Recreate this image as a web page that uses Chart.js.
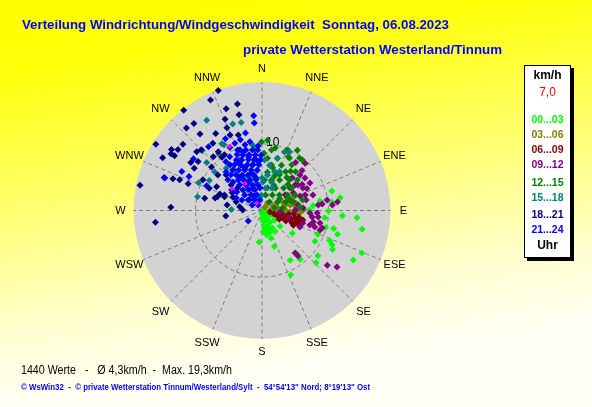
<!DOCTYPE html>
<html><head><meta charset="utf-8">
<script src="https://cdn.jsdelivr.net/npm/chart.js@4.4.0/dist/chart.umd.min.js"></script>
<style>
html,body{margin:0;padding:0;}
body{width:592px;height:407px;overflow:hidden;position:relative;
 background:linear-gradient(172deg,#ffff00 0px,#ffff08 70px,#ffff80 230px,#ffffd0 330px,#fffff6 407px);
 font-family:"Liberation Sans",Arial,sans-serif;}
#c{position:absolute;left:0;top:0;}
.t{position:absolute;white-space:pre;transform-origin:0 50%;z-index:2;}
#title{left:22px;top:17px;line-height:16px;color:#0000ff;font-weight:bold;font-size:13px;}
#sub{left:243px;top:42px;line-height:16px;color:#0000ff;font-weight:bold;font-size:13px;}
#f1{left:21px;top:363px;line-height:14px;color:#000;font-size:12px;}
#f2{left:21px;top:381px;line-height:12px;color:#0000ff;font-weight:bold;font-size:9px;}
#leg{position:absolute;left:524px;top:65px;width:45px;height:191px;border:1px solid #000;background:#fff;box-shadow:3px 3px 0 #000;z-index:2;}
#leg div{position:absolute;left:0;right:0;text-align:center;white-space:pre;line-height:14px;}
</style></head>
<body>
<canvas id="c" width="592" height="407"></canvas>
<div class="t" id="title" data-w="427">Verteilung Windrichtung/Windgeschwindigkeit  Sonntag, 06.08.2023</div>
<div class="t" id="sub" data-w="259">private Wetterstation Westerland/Tinnum</div>
<div class="t" id="f1" data-w="211">1440 Werte   -   Ø 4,3km/h  -  Max. 19,3km/h</div>
<div class="t" id="f2" data-w="349">© WsWin32  -  © private Wetterstation Tinnum/Westerland/Sylt  -  54°54'13" Nord; 8°19'13" Ost</div>
<div id="leg"></div>
<script>
// ---- data (direction in degrees, speed in km/h) ----
const R_MAX = 19.3;
const directions = ['N','NNE','NE','ENE','E','ESE','SE','SSE','S','SSW','SW','WSW','W','WNW','NW','NNW'];
const ringTicks = [10];
const unitLabel = 'km/h';
const meanLabel = '7,0';
const timeLabel = 'Uhr';
const groupLabels = ['00...03','03...06','06...09','09...12','12...15','15...18','18...21','21...24'];
const groupColors = ['#00ff00','#808000','#800000','#800080','#008000','#008080','#000080','#0000ff'];

const g00_03 = [[38.7,0.5],[104,0.9],[180,0.5],[144,1.0],[182,1.2],[173,1.7],[154,1.6],[145,2.1],[159,2.6],[170,2.7],[159,3.4],[148,3.7],[169,3.7],[185,4.8],[162,4.4],[161,5.7],[127,5.7],[120,9.2],[113,9.1],[105,9.9],[104,11.1],[107.5,11.9],[114,11.1],[116,11.7],[119,12.1],[129,10.8],[134,11.3],[142,9.3],[156,10.6],[118.5,15.6],[113,16.3],[100.6,15.3],[94.3,14.3],[93.7,12.1],[96.5,9.5],[90.4,10.0],[89.4,7.1],[97,7.6],[80.7,8.8],[83.3,10.6],[80.7,11.9],[74.4,10.9],[84.6,7.7],[126,2.4],[131,3.6],[128,1.3],[172,2.2],[163,3.1],[177,3.2],[150,3.0],[97,0.6],[114,1.7],[150.5,8.6],[141,8.3]];
const g03_06 = [[40.6,0.7],[38.7,1.4],[67.8,1.8],[81.1,2.4],[70.3,3.4],[88.8,3.5],[78.9,4.3],[66.5,5.1],[92.8,4.7],[85.9,5.3],[94,5.4],[89.3,6.2],[102.7,3.1],[100.9,2.0],[104,4.0],[93.6,1.2],[59.7,3.1],[63.4,4.2],[77.6,5.2],[93.8,5.7],[65,2.3],[76.5,3.6],[93,4.2],[88.4,2.7],[82.2,5.0]];
const g06_09 = [[100.6,1.2],[106.3,1.9],[109,2.5],[99.9,3.1],[109.7,3.4],[104.6,3.9],[108.7,4.4],[112.6,4.9],[102.8,5.1],[108.2,5.5],[109.6,6.1],[103,6.3],[113.6,3.9],[116.6,2.9],[100,5.6],[96.2,4.8],[106,4.6],[111,5.8],[105,5.9],[98,4.0],[104,2.7],[115,5.2]];
const g09_12 = [[22.4,9.7],[42.3,9.6],[47,7.8],[52.9,8.1],[60.2,8.3],[52.3,6.3],[51.2,5.4],[54.7,6.6],[60.6,5.4],[61.2,7.0],[76.6,6.8],[69.1,6.1],[81.3,5.5],[69.4,4.5],[89.1,5.0],[86.5,6.2],[93,7.2],[97.4,7.6],[102.7,7.9],[107.3,8.3],[84.4,8.5],[83.8,9.1],[80.8,9.9],[85.5,10.6],[83.5,11.4],[92.6,8.3],[96.6,8.5],[102.2,8.9],[106.3,9.4],[106.8,7.5],[107,6.4],[113.5,6.2],[142.2,8.1],[141.6,8.7],[130,12.8],[127,14.1],[108.6,9.2],[56,4.2],[94.8,2.7],[106,4.1],[70.2,6.9],[42.7,6.7],[35,8.8],[45,8.5],[64,7.5],[73,8.0],[57,7.2]];
const g12_15 = [[8.9,9.2],[22.9,9.9],[30.4,10.5],[6.0,7.9],[16.4,8.2],[27.6,8.9],[35.5,9.7],[11.8,7.0],[23.2,7.4],[33,8.2],[8.1,5.8],[19.3,6.1],[31.4,6.8],[41,7.7],[4.7,4.6],[17.3,4.8],[29.8,5.3],[42,6.2],[49.3,7.0],[13.7,3.5],[31,3.9],[43.7,4.7],[52.7,5.6],[12.7,2.4],[34.1,2.8],[48.5,3.5],[58.7,4.5],[65.2,5.5],[41.4,1.7],[61.3,2.7],[70.1,3.8],[74.9,4.9],[78.7,1.9],[83,3.1],[359.6,10.3],[4.5,10.6],[38.7,9.7],[75.5,6.3],[84.7,5.7],[14,6.6],[26,6.0],[37,6.2],[20,5.5],[45,5.5],[25,4.2],[56,3.2],[68,4.4],[36,7.3],[2,8.6],[12,9.6],[26,9.0]];
const g15_18 = [[328.5,15.9],[346.7,13.6],[341.3,13.7],[329,11.7],[315,12.7],[311,11.0],[299.6,9.1],[282,9.9],[272,4.6],[322.6,10.7],[293.7,10.4],[319.7,8.3],[309.2,9.2],[2.8,7.6],[9.4,6.9],[18,6.1],[8.8,5.4],[18.4,4.5],[8.8,3.4],[16.4,8.2],[21,9.4],[25.2,9.7],[358,2.3],[332,1.8],[343.6,4.0],[353.7,6.1],[347,7.0],[324.7,3.8],[330.3,5.6],[336,8.3],[325.8,7.4],[353,9.2],[0,4.9],[25,3.7],[24.4,6.4],[352,9.9],[330,11.4],[342.3,5.3],[1.6,4.3],[348,1.9]];
const g18_21 = [[340,19.2],[335,18.3],[322,19.1],[347,16.4],[317.5,16.8],[322,16.6],[338,14.8],[346.5,14.8],[321,14.8],[329,13.5],[337,13.5],[302,18.8],[310,15.5],[304,16.4],[306,15.6],[298,16.9],[302,16.1],[302,15.5],[312,13.2],[315,12.9],[307.5,12.1],[304,12.9],[302,12.0],[288.6,15.5],[289.6,14.2],[290.4,13.2],[290,11.8],[297.5,10.0],[281.7,18.7],[282,8.8],[272,13.7],[285,7.3],[287,7.0],[291.5,6.8],[263.7,16.1],[261.4,5.5],[340.6,16.2],[292.5,6.1],[300.7,5.2],[279,5.3],[288.8,4.1],[279.6,3.4],[309.6,6.0],[312.6,5.0],[310,2.5],[271.5,2.9],[314.8,7.6],[308.8,8.5],[323.8,12.5],[326,10.1],[292.9,8.6],[337,12.3],[323.4,11.0],[317.8,10.9],[310.7,10.0],[323,10.0],[297.7,7.7],[290,6.0],[294.7,4.8],[342.6,11.9]];
const g21_24 = [[340,9.7],[345,9.4],[351,9.2],[356,9.1],[336,9.2],[341,8.8],[347,8.6],[353,8.4],[359,8.3],[333,8.5],[338,8.2],[345,7.9],[351,7.7],[358,7.6],[329,8.0],[335,7.5],[342,7.2],[349,7.0],[356,6.9],[324,7.5],[330,7.0],[337,6.6],[345,6.3],[353,6.1],[324,6.6],[331,6.1],[338,5.7],[347,5.5],[322,5.8],[329,5.3],[338,4.9],[349,4.7],[319,5.1],[328,4.5],[339,4.1],[351,3.9],[317,4.2],[328,3.7],[341,3.3],[312,3.5],[325,2.9],[342,2.5],[307,2.6],[323,2.0],[349,1.6],[299,1.7],[324,1.0],[325,8.4],[312,6.9],[304,5.5],[296,4.3],[317,7.9],[355,14.3],[355,13.2],[333,12.1],[307,12.9],[296,13.4],[295,12.1],[294,9.1],[233,2.6],[343,11.1],[348,11.9],[333,10.6],[338,10.9],[288.5,15.4],[320,12.5],[345.5,10.2],[356.5,9.7],[350,10.5],[338,9.8],[342,9.2],[346,8.3],[334,7.9],[338,6.9],[344,5.9],[325.5,6.1],[314.5,6.1],[331,4.7],[337,3.5],[306.5,4.7],[297.7,3.4],[354,7.6],[329,9.4],[323.4,9.1],[319,7.1],[349.5,5.0],[355,3.4],[331,2.5]];
const extraMarks = [[333,10.8],[306,5.6],[328,4.8],[324,1.3]];
const groups = [g00_03,g03_06,g06_09,g09_12,g12_15,g15_18,g18_21,g21_24];

// ---- helpers ----
const toXY = ([d,s]) => ({x: s*Math.sin(d*Math.PI/180), y: s*Math.cos(d*Math.PI/180)});

const datasets = groups.map((g,i)=>({
  label: groupLabels[i], data: g.map(toXY), backgroundColor: groupColors[i],
  borderWidth: 0, pointStyle: 'rectRot', pointRadius: 3.5, order: 10 - i
}));
datasets.push({label:'', data: extraMarks.map(toXY), backgroundColor:'#ff00ff', borderWidth:0, pointStyle:'rectRot', pointRadius:2.6, order:0});

const polarGrid = {
  id: 'polarGrid',
  beforeDatasetsDraw(chart){
    const ctx = chart.ctx, xs = chart.scales.x, ys = chart.scales.y;
    const cx = xs.getPixelForValue(0), cy = ys.getPixelForValue(0);
    const rad = xs.getPixelForValue(R_MAX) - cx;
    ctx.save();
    ctx.fillStyle = '#d3d3d3';
    ctx.beginPath(); ctx.arc(cx, cy, rad, 0, Math.PI*2); ctx.fill();
    ctx.strokeStyle = '#7c7c7c'; ctx.lineWidth = 1; ctx.setLineDash([4,3]);
    ringTicks.forEach(v=>{
      const r = xs.getPixelForValue(v) - cx;
      ctx.beginPath(); ctx.arc(cx, cy, r, 0, Math.PI*2); ctx.stroke();
    });
    directions.forEach((d,i)=>{
      const a = i*22.5*Math.PI/180;
      ctx.beginPath(); ctx.moveTo(cx, cy);
      ctx.lineTo(cx + rad*Math.sin(a), cy - rad*Math.cos(a)); ctx.stroke();
    });
    ctx.setLineDash([]);
    ctx.fillStyle = '#000';
    ctx.font = '11px "Liberation Sans", Arial, sans-serif';
    ctx.textAlign = 'center'; ctx.textBaseline = 'middle';
    directions.forEach((d,i)=>{
      const a = i*22.5*Math.PI/180;
      const off = (i % 4 === 0) ? 13 : 15;
      ctx.fillText(d, cx + (rad+off)*Math.sin(a), cy - (rad+off)*Math.cos(a));
    });
    ctx.font = '12px "Liberation Sans", Arial, sans-serif';
    ctx.textAlign = 'left';
    ringTicks.forEach(v=>{
      const r = xs.getPixelForValue(v) - cx;
      ctx.fillText(String(v), cx + 4, cy - r - 1);
    });
    ctx.restore();
  }
};

new Chart(document.getElementById('c'), {
  type: 'scatter',
  data: { datasets },
  options: {
    responsive: false, animation: false, events: [],
    layout: { padding: { left: 133.5, right: 201.5, top: 82, bottom: 68 } },
    scales: {
      x: { type:'linear', min:-R_MAX, max:R_MAX, display:false },
      y: { type:'linear', min:-R_MAX, max:R_MAX, display:false }
    },
    plugins: { legend:{display:false}, tooltip:{enabled:false}, title:{display:false} }
  },
  plugins: [polarGrid]
});

// ---- legend box (HTML text) ----
const leg = document.getElementById('leg');
function addLine(txt, cyAbs, color, weight, size){
  const d = document.createElement('div');
  d.textContent = txt; d.style.color = color; d.style.fontWeight = weight; d.style.fontSize = size+'px';
  d.style.top = (cyAbs - 65 - 1 - 7) + 'px';
  leg.appendChild(d);
}
addLine(unitLabel, 75, '#000', 'bold', 12);
addLine(meanLabel, 92, '#ff0000', 'normal', 12);
const legY = [119,133.5,148.5,164,182,197,214,229];
groupLabels.forEach((l,i)=>addLine(l, legY[i], groupColors[i], 'bold', 10.5));
addLine(timeLabel, 245, '#000', 'bold', 12);

document.querySelectorAll('[data-w]').forEach(el=>{
  const w = +el.dataset.w, a = el.getBoundingClientRect().width;
  if (a > 0) el.style.transform = 'scaleX(' + (w/a) + ')';
});
</script>
</body></html>
